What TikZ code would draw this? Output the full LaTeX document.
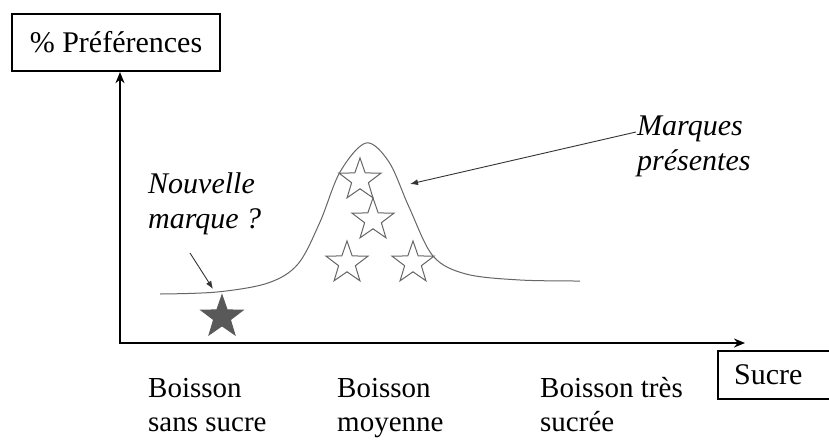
\documentclass[tikz,border=0pt]{standalone}
\usepackage{fontspec}
\setmainfont{Liberation Serif}
\usetikzlibrary{arrows.meta,shapes.geometric}
\begin{document}
\begin{tikzpicture}[x=1pt,y=-1pt,
  lbl/.style={font=\fontsize{30}{35}\selectfont, inner sep=0pt, align=left, anchor=base west},
  blbl/.style={lbl, font=\fontsize{29}{34}\selectfont},
  ilbl/.style={lbl, font=\fontsize{30}{35}\selectfont\itshape},
  axisbox/.style={draw, line width=2.2pt, font=\fontsize{30}{35}\selectfont, inner sep=0pt},
  axisline/.style={line width=2pt, {Stealth[length=11pt,width=9pt]}-{Stealth[length=11pt,width=9pt]}},
  curve/.style={line width=1pt, draw=black!60},
  openstar/.style={star, star points=5, star point ratio=2.5, minimum size=44pt, inner sep=0pt, draw=black!60, line width=1pt},
  fullstar/.style={openstar, fill=black!65, draw=black!65},
  pointer/.style={line width=0.9pt, draw=black!80, -{Latex[length=8pt,width=6pt]}}
]
\useasboundingbox (0,0) rectangle (829,442);
\fill[white] (0,0) rectangle (829,442);

\node[axisbox, minimum width=208pt, minimum height=57pt] (pref) at (116,42.5) {\% Préférences};
\node[axisbox, anchor=north west, text width=100pt, align=left, inner xsep=16pt, minimum height=48pt] (sucre) at (717,350) {Sucre};

\coordinate (O) at (120,343);
\coordinate (xend) at (745,343);
\draw[axisline] (O |- pref.south) -- (O) -- (xend);

\draw[curve] plot[smooth, tension=0.55] coordinates {(160,294) (217,292) (268,283) (298,264) (320,222) (340,172) (366,143) (389,162) (409,207) (433,256) (466,274) (520,280) (580,281)};

\node[openstar] (s1) at (360,180) {};
\node[openstar] (s2) at (373,220) {};
\node[openstar] (s3) at (347,263) {};
\node[openstar] (s4) at (413,263) {};
\node[fullstar] (s0) at (222,317) {};

\node[blbl] (b1) at (148,431) {Boisson\\sans sucre};
\node[blbl] (b2) at (337,431) {Boisson\\moyenne};
\node[blbl] (b3) at (540,431) {Boisson très\\sucrée};
\node[ilbl] (nouv) at (148,228) {Nouvelle\\marque ?};
\node[ilbl] (marq) at (637,170) {Marques\\présentes};

\coordinate (nmstart) at (190,253);
\coordinate (nmend) at (213,289);
\coordinate (mpstart) at (636,132);
\coordinate (mpend) at (410,184);
\draw[pointer] (nmstart) -- (nmend);
\draw[pointer] (mpstart) -- (mpend);
\end{tikzpicture}
\end{document}
